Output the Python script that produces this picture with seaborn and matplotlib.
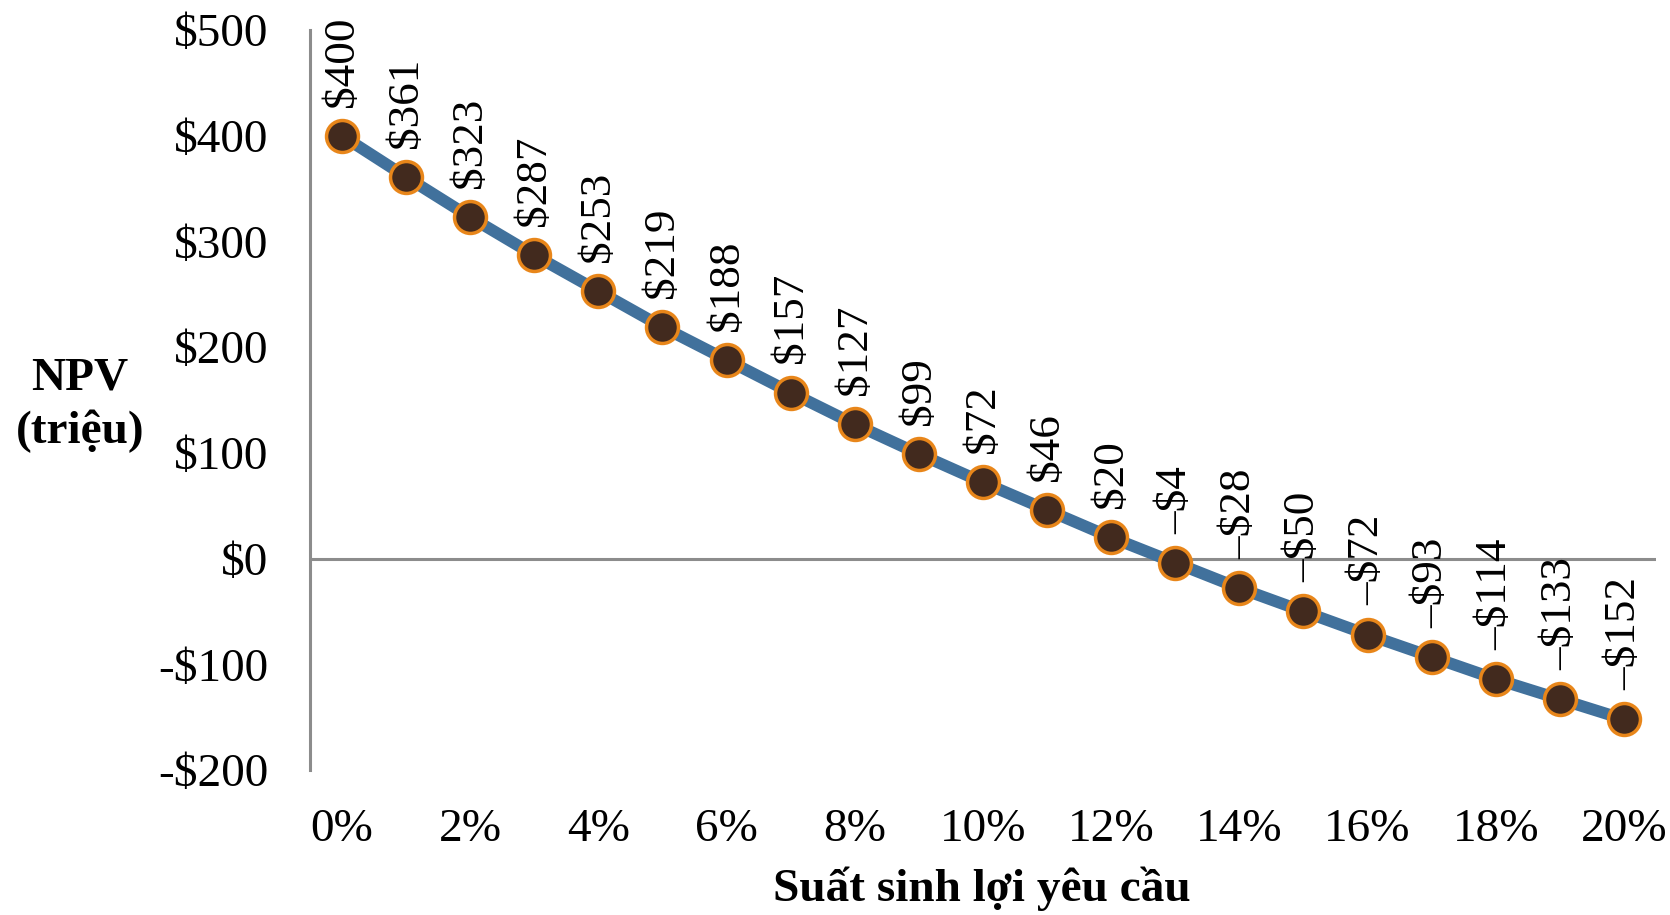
import matplotlib
matplotlib.use("Agg")
import matplotlib.pyplot as plt
import seaborn as sns
import pandas as pd

rates = list(range(0, 21))  # percent
npv = [400, 361, 323, 287, 253, 219, 188, 157, 127, 99, 72, 46, 20,
       -4, -28, -50, -72, -93, -114, -133, -152]
x_ticks = [0, 2, 4, 6, 8, 10, 12, 14, 16, 18, 20]
x_tick_labels = [f"{t}%" for t in x_ticks]
y_ticks = [-200, -100, 0, 100, 200, 300, 400, 500]
y_tick_labels = ["-$200", "-$100", "$0", "$100", "$200", "$300", "$400", "$500"]
point_labels = [f"${v}" if v >= 0 else f"\u2013${-v}" for v in npv]

sns.set_theme(style="white")
plt.rcParams['font.family'] = ['Liberation Serif', 'DejaVu Serif']
plt.rcParams['text.color'] = 'black'
plt.rcParams['xtick.color'] = 'black'
plt.rcParams['ytick.color'] = 'black'

fig = plt.figure(figsize=(16.7, 9.15), dpi=100)
ax = fig.add_axes([0.1856, 0.1585, 0.806, 0.8087])

df = pd.DataFrame({"rate": rates, "npv": npv})
ax.axhline(0, color="#8C8C8C", lw=2.2, zorder=1)
sns.lineplot(data=df, x="rate", y="npv", ax=ax, color="#41719C", lw=8.5,
             marker="o", markersize=23, markerfacecolor="#422A1E",
             markeredgecolor="#E8861A", markeredgewidth=2.5, zorder=3)

for xv, yv, lab in zip(rates, npv, point_labels):
    ax.annotate(lab, (xv, yv), xytext=(0, 21), textcoords="offset points",
                rotation=90, ha="center", va="bottom", fontsize=32.5, color="black")

ax.set_xlim(-0.5, 20.5)
ax.set_ylim(-200, 500)
ax.set_xticks(x_ticks)
ax.set_xticklabels(x_tick_labels, fontsize=34, color="black")
ax.set_yticks(y_ticks)
ax.set_yticklabels(y_tick_labels, fontsize=34, color="black")
ax.tick_params(axis="x", length=0, pad=28)
ax.tick_params(axis="y", length=0, pad=30)

for s in ["top", "right", "bottom"]:
    ax.spines[s].set_visible(False)
ax.spines["left"].set_color("#8C8C8C")
ax.spines["left"].set_linewidth(2.2)

ax.set_xlabel("")
ax.set_ylabel("")
fig.text(982 / 1670, 1 - 889 / 915, "Suất sinh lợi yêu cầu", ha="center", va="center",
         fontsize=34, fontweight="bold", color="black")
fig.text(80 / 1670, 1 - 405 / 915, "NPV\n(triệu)", ha="center", va="center",
         fontsize=34, fontweight="bold", linespacing=1.3, color="black")

fig.savefig("out.png", dpi=100, facecolor="white")
